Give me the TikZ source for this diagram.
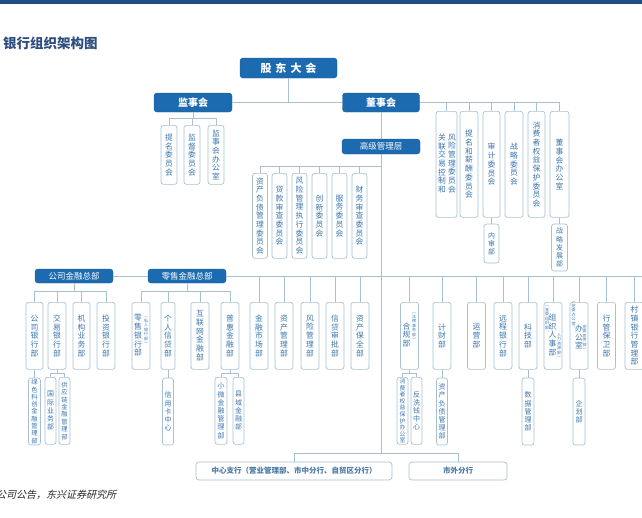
\documentclass[tikz,border=0pt]{standalone}
\usepackage{fontspec}
\setmainfont{Noto Sans CJK SC}
\newfontfamily\kaiit{Noto Sans CJK SC}[FakeSlant=0.25]
\XeTeXlinebreaklocale "zh"
\XeTeXlinebreakskip=0pt plus 1pt
\usetikzlibrary{positioning}
\definecolor{barblue}{HTML}{1F4F82}
\definecolor{ttlblue}{HTML}{2E4D7F}
\definecolor{hdblue}{HTML}{1C6BB0}
\definecolor{lnblue}{HTML}{A7C0D4}
\definecolor{txblue}{HTML}{3A76AE}
\definecolor{btxt}{HTML}{4A7AA6}
\tikzset{
  headbox/.style={fill=hdblue,draw=hdblue!85!black,rounded corners=3pt,text=white,inner sep=0pt,font=\bfseries\fontsize{10}{12}\selectfont},
  vtxt/.style={inner sep=0pt,text=txblue,text width=8pt,align=center,font=\fontsize{7.8}{8.7}\selectfont},
  deptbox/.style={vtxt,draw=lnblue,fill=white,rounded corners=2.5pt,line width=0.7pt,anchor=north},
  subbox/.style={deptbox,text width=7pt,font=\fontsize{7}{8.2}\selectfont},
  smalltxt/.style={inner sep=0pt,text=txblue,align=center,font=\fontsize{4}{4.6}\selectfont},
  bottombox/.style={draw=lnblue,fill=white,rounded corners=3pt,line width=0.7pt,inner sep=0pt,text=btxt,font=\bfseries\fontsize{7.5}{9}\selectfont},
  link/.style={draw=lnblue,line width=0.7pt},
}
\begin{document}
\begin{tikzpicture}[x=1pt,y=-1pt]
  \useasboundingbox (0,0) rectangle (642,517);
  \fill[barblue] (0,0) rectangle (642,3.5);
  \node[anchor=west,text=ttlblue,inner sep=0pt,font=\bfseries\fontsize{13.5}{15}\selectfont] (title) at (3,43) {银行组织架构图};
  % top level
  \node[headbox,minimum width=97pt,minimum height=20pt,font=\bfseries\fontsize{11}{12}\selectfont] (gddh) at (288.5,68) {股\hspace{4pt}东\hspace{4pt}大\hspace{4pt}会};
  \node[headbox,minimum width=78pt,minimum height=19pt] (jsh) at (193,102.5) {监事会};
  \node[headbox,minimum width=77pt,minimum height=19pt] (dsh) at (381,102.5) {董事会};
  \node[headbox,minimum width=78pt,minimum height=15pt,font=\fontsize{8.5}{10}\selectfont] (gjgl) at (381,146.5) {高级管理层};
  \node[headbox,minimum width=78pt,minimum height=14pt,font=\fontsize{8.5}{10}\selectfont] (gsjr) at (74,276) {公司金融总部};
  \node[headbox,minimum width=78pt,minimum height=14pt,font=\fontsize{8.5}{10}\selectfont] (lsjr) at (187,276) {零售金融总部};
  % supervisory board
  \node[deptbox,minimum width=16pt,minimum height=59pt] (tmwy) at (169,125) {提名委员会};
  \node[deptbox,minimum width=16pt,minimum height=59pt] (jdwy) at (192,125) {监督委员会};
  \node[deptbox,minimum width=16pt,minimum height=59pt] (jsbg) at (216,125) {监事会办公室};
  % board committees
  \node[deptbox,minimum width=21pt,minimum height=106pt] (glfx) at (446.5,111) {};
  \node[vtxt] (glfxa) at (442,163.5) {关联交易控制和};
  \node[vtxt] (glfxb) at (452,163.5) {风险管理委员会};
  \node[deptbox,minimum width=18pt,minimum height=106pt] (tmxc) at (469,111) {提名和薪酬委员会};
  \node[deptbox,minimum width=17pt,minimum height=106pt] (sjwy) at (491.5,111) {审计委员会};
  \node[deptbox,minimum width=18pt,minimum height=106pt] (zlwy) at (514,111) {战略委员会};
  \node[deptbox,minimum width=17pt,minimum height=106pt] (xfwy) at (536.5,111) {消费者权益保护委员会};
  \node[deptbox,minimum width=19pt,minimum height=106pt] (dsbg) at (559.5,111) {董事会办公室};
  \node[subbox,minimum width=15pt,minimum height=39pt,below=6pt of sjwy] (nsb) {内审部};
  \node[subbox,minimum width=16pt,minimum height=47pt,below=6pt of dsbg] (zlfz) {战略发展部};
  % management committees
  \node[deptbox,minimum width=15pt,minimum height=85pt] (zcfz) at (260,173) {资产负债管理委员会};
  \node[deptbox,minimum width=15pt,minimum height=85pt] (dksc) at (279.5,173) {贷款审查委员会};
  \node[deptbox,minimum width=15pt,minimum height=85pt] (fxzx) at (299.5,173) {风险管理执行委员会};
  \node[deptbox,minimum width=15pt,minimum height=85pt] (cxwy) at (319.5,173) {创新委员会};
  \node[deptbox,minimum width=15pt,minimum height=85pt] (fwwy) at (339.5,173) {服务委员会};
  \node[deptbox,minimum width=15pt,minimum height=85pt] (cwsc) at (359.5,173) {财务审查委员会};
  % departments
  \node[deptbox,minimum width=17pt,minimum height=67pt] (gsyh) at (34.5,302) {公司银行部};
  \node[deptbox,minimum width=18pt,minimum height=67pt] (jyyh) at (57,302) {交易银行部};
  \node[deptbox,minimum width=17pt,minimum height=67pt] (jgyw) at (81.5,302) {机构业务部};
  \node[deptbox,minimum width=18pt,minimum height=67pt] (tzyh) at (106,302) {投资银行部};
  \node[deptbox,minimum width=18pt,minimum height=67pt] (lsyh) at (141,302) {};
  \node[vtxt] (lsyhm) at (138,335.5) {零售银行部};
  \node[smalltxt] (lsyhs) at (146,331) {︵\\私\\人\\银\\行\\部\\︶};
  \node[deptbox,minimum width=14pt,minimum height=67pt] (grxd) at (168,302) {个人信贷部};
  \node[deptbox,minimum width=18pt,minimum height=67pt] (hlw) at (200,302) {互联网金融部};
  \node[deptbox,minimum width=18pt,minimum height=67pt] (phjr) at (230,302) {普惠金融部};
  \node[deptbox,minimum width=18pt,minimum height=67pt] (jrsc) at (259,302) {金融市场部};
  \node[deptbox,minimum width=18pt,minimum height=67pt] (zcgl) at (284,302) {资产管理部};
  \node[deptbox,minimum width=18pt,minimum height=67pt] (fxgl) at (310,302) {风险管理部};
  \node[deptbox,minimum width=18pt,minimum height=67pt] (xdsp) at (335,302) {信贷审批部};
  \node[deptbox,minimum width=18pt,minimum height=67pt] (zcbq) at (360,302) {资产保全部};
  \node[deptbox,minimum width=18pt,minimum height=67pt] (hgb) at (409.5,302) {};
  \node[vtxt] (hgbm) at (406.5,335) {合规部};
  \node[smalltxt] (hgbs) at (414,327) {︵\\法\\律\\事\\务\\部\\︶};
  \node[deptbox,minimum width=18pt,minimum height=67pt] (jcb) at (442,302) {计财部};
  \node[deptbox,minimum width=18pt,minimum height=67pt] (yyb) at (476.5,302) {运营部};
  \node[deptbox,minimum width=18pt,minimum height=67pt] (ycyh) at (503,302) {远程银行部};
  \node[deptbox,minimum width=18pt,minimum height=67pt] (kjb) at (528,302) {科技部};
  \node[deptbox,minimum width=18pt,minimum height=67pt] (zzrs) at (553,302) {};
  \node[vtxt] (zzrsm) at (552.5,335) {组织人事部};
  \node[smalltxt] (zzrsa) at (547,320) {︵\\党\\委\\组\\织\\部\\︑};
  \node[smalltxt] (zzrsb) at (559,346) {人\\力\\资\\源\\部\\︶};
  \node[deptbox,minimum width=18pt,minimum height=67pt] (bgs) at (579,302) {};
  \node[vtxt] (bgsm) at (579,337) {办公室};
  \node[smalltxt] (bgsa) at (573.5,316) {︵\\党\\委\\办\\公\\室\\︑};
  \node[smalltxt] (bgsb) at (584.5,338) {党\\委\\宣\\传\\部\\︶};
  \node[deptbox,minimum width=18pt,minimum height=67pt] (xgbw) at (606.5,302) {行管保卫部};
  \node[deptbox,minimum width=19pt,minimum height=67pt] (czyh) at (634.5,302) {村镇银行管理部};
  % sub departments
  \node[subbox,minimum width=12pt,minimum height=67pt,text width=6.5pt,font=\fontsize{6.3}{7.3}\selectfont,below=8pt of gsyh] (lskc) {绿色科创金融管理部};
  \node[subbox,minimum width=11pt,minimum height=67pt] (gjyw) at (50.5,377) {国际业务部};
  \node[subbox,minimum width=11pt,minimum height=67pt,text width=6.5pt,font=\fontsize{6.3}{7.4}\selectfont] (gylj) at (64.5,377) {供应链金融管理部};
  \node[subbox,minimum width=11pt,minimum height=67pt,below=8pt of grxd] (xykz) {信用卡中心};
  \node[subbox,minimum width=12pt,minimum height=67pt] (xwjr) at (221,377) {小微金融管理部};
  \node[subbox,minimum width=11pt,minimum height=67pt] (xyjr) at (238.5,377) {县域金融部};
  \node[subbox,minimum width=11pt,minimum height=67pt,text width=6pt,font=\fontsize{5.8}{6.6}\selectfont] (xfbh) at (402.5,377) {消费者权益保护办公室};
  \node[subbox,minimum width=11pt,minimum height=67pt] (fxqz) at (416.5,377) {反洗钱中心};
  \node[subbox,minimum width=11pt,minimum height=67pt,below=8pt of jcb] (zcfg) {资产负债管理部};
  \node[subbox,minimum width=12pt,minimum height=67pt,below=8pt of kjb] (sjgl) {数据管理部};
  \node[subbox,minimum width=12pt,minimum height=67pt,below=8pt of bgs] (qhbu) {企划部};
  % branches
  \node[bottombox,minimum width=196pt,minimum height=18pt] (zxzh) at (294,471) {中心支行（营业管理部、市中分行、自贸区分行）};
  \node[bottombox,minimum width=98pt,minimum height=18pt] (swfh) at (458,471) {市外分行};
  \node[anchor=west,inner sep=0pt,text=black!85,font=\kaiit\fontsize{10}{12}\selectfont] (src) at (-4,495) {公司公告，东兴证券研究所};
  % connectors
  \coordinate (jsbus) at (193,118);
  \coordinate (gjbus) at (381,166);
  \coordinate (gsbus) at (74,291);
  \coordinate (lsbus) at (187,291);
  \coordinate (zbus) at (645,276);
  \coordinate (jybus) at (57,373);
  \coordinate (phbus) at (230,373);
  \coordinate (hgbus) at (409.5,373);
  \coordinate (fhbus) at (381,453);
  \draw[link] (gddh) -- (gddh |- jsh);
  \draw[link] (jsh) -- (dsh);
  \draw[link] (jsh) -- (jsbus);
  \foreach \k in {tmwy,jdwy,jsbg} \draw[link] (\k.north) |- (jsbus);
  \foreach \k in {glfx,tmxc,sjwy,zlwy,xfwy,dsbg} \draw[link] (\k.north) |- (dsh.east);
  \draw[link] (sjwy) -- (nsb);
  \draw[link] (dsbg) -- (zlfz);
  \draw[link] (dsh) -- (gjgl);
  \draw[link] (gjgl) -- (fhbus);
  \foreach \k in {zcfz,dksc,fxzx,cxwy,fwwy,cwsc} \draw[link] (\k.north) |- (gjbus);
  \draw[link] (gsjr) -- (lsjr);
  \draw[link] (gsjr) -- (gsbus);
  \foreach \k in {gsyh,jyyh,jgyw,tzyh} \draw[link] (\k.north) |- (gsbus);
  \draw[link] (lsjr) -- (lsbus);
  \foreach \k in {lsyh,grxd,hlw,phjr} \draw[link] (\k.north) |- (lsbus);
  \draw[link] (lsjr.east) -- (zbus);
  \foreach \k in {jrsc,zcgl,fxgl,xdsp,zcbq,hgb,jcb,yyb,ycyh,kjb,zzrs,bgs,xgbw,czyh} \draw[link] (\k.north) -- (\k.north |- zbus);
  \draw[link] (gsyh) -- (lskc);
  \draw[link] (jyyh) -- (jybus);
  \foreach \k in {gjyw,gylj} \draw[link] (\k.north) |- (jybus);
  \draw[link] (grxd) -- (xykz);
  \draw[link] (phjr) -- (phbus);
  \foreach \k in {xwjr,xyjr} \draw[link] (\k.north) |- (phbus);
  \draw[link] (hgb) -- (hgbus);
  \foreach \k in {xfbh,fxqz} \draw[link] (\k.north) |- (hgbus);
  \draw[link] (jcb) -- (zcfg);
  \draw[link] (kjb) -- (sjgl);
  \draw[link] (bgs) -- (qhbu);
  \foreach \k in {zxzh,swfh} \draw[link] (\k.north) |- (fhbus);
\end{tikzpicture}
\end{document}
